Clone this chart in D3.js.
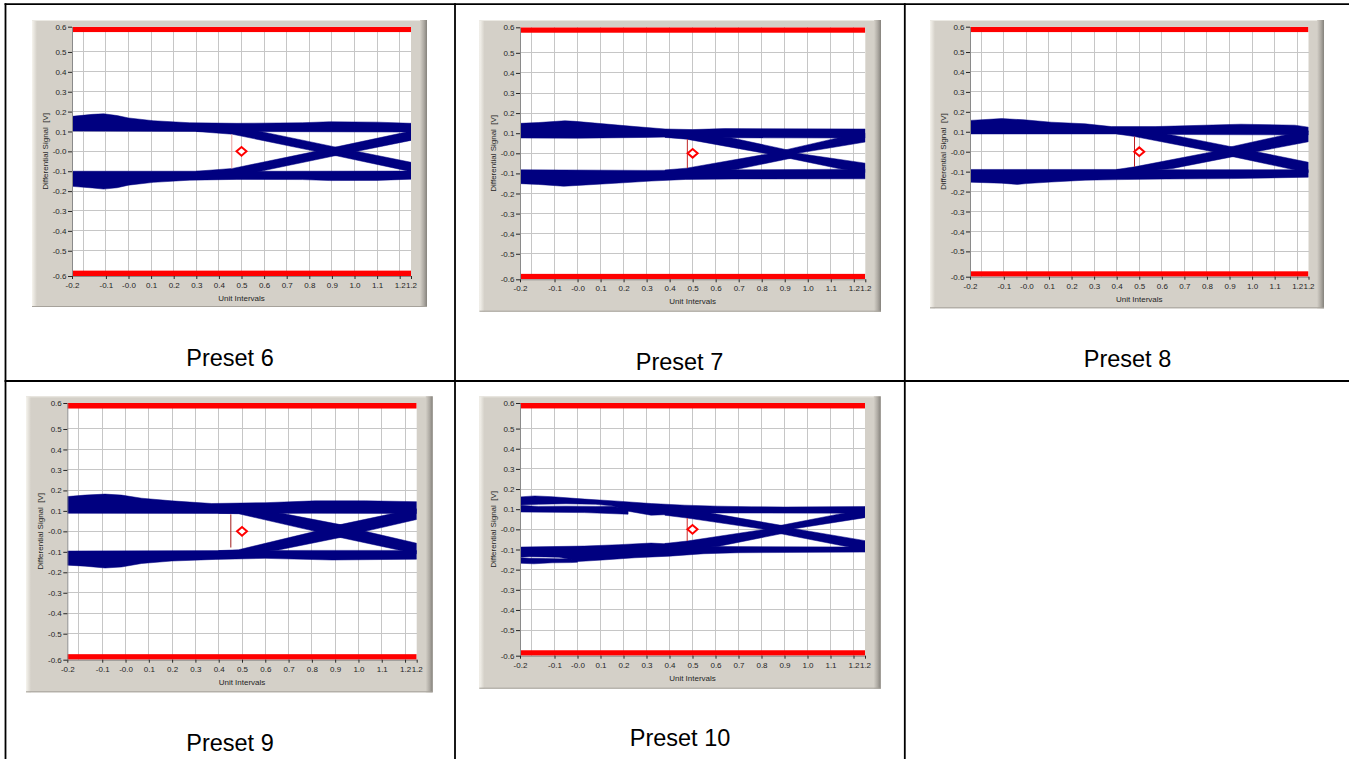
<!DOCTYPE html>
<html>
<head>
<meta charset="utf-8">
<script src="https://cdn.jsdelivr.net/npm/d3@7"></script>
<style>
  body { margin: 0; background: #ffffff; }
  svg { display: block; font-family: "Liberation Sans", Arial, sans-serif; }
</style>
</head>
<body>
<svg id="chart" width="1349" height="759"></svg>
<script>
// ---------- axes ----------
const xDomain = [-0.25, 1.25];          // unit intervals
const yDomain = [-0.627, 0.627];        // volts
const xGridValues = [-0.2, -0.1, 0, 0.1, 0.2, 0.3, 0.4, 0.5, 0.6, 0.7, 0.8, 0.9, 1.0, 1.1, 1.2];
const xTickValues = [-0.1, 0, 0.1, 0.2, 0.3, 0.4, 0.5, 0.6, 0.7, 0.8, 0.9, 1.0, 1.1, 1.2];
const xTickLabels = ["-0.1", "-0.0", "0.1", "0.2", "0.3", "0.4", "0.5", "0.6", "0.7", "0.8", "0.9", "1.0", "1.1", "1.2"];
const xEndLabels = ["-0.2", "1.2"];
const yTickValues = [0.5, 0.4, 0.3, 0.2, 0.1, 0, -0.1, -0.2, -0.3, -0.4, -0.5];
const yTickLabels = ["0.5", "0.4", "0.3", "0.2", "0.1", "-0.0", "-0.1", "-0.2", "-0.3", "-0.4", "-0.5"];
const yEndLabels = ["0.6", "-0.6"];
const maskLevels = [0.6, -0.6];          // mask limits drawn as red bars to the plot edge
const xTitle = "Unit Intervals";
const yTitle = "Differential Signal  [V]";

const presetNames = ["Preset 6", "Preset 7", "Preset 8", "Preset 9", "Preset 10"];

// ---------- eye envelopes: each band = [upper edge, lower edge], points are [UI, V] ----------
// Preset 6
const p6Upper = [
  [[-0.25, 0.176], [-0.16, 0.186], [-0.11, 0.189], [-0.05, 0.180], [0.0, 0.168], [0.11, 0.154], [0.27, 0.144], [0.48, 0.141], [0.77, 0.144], [0.89, 0.149], [1.10, 0.147], [1.25, 0.141]],
  [[-0.25, 0.102], [0.30, 0.100], [0.70, 0.099], [1.25, 0.097]]
];
const p6Lower = [
  [[-0.25, -0.100], [0.30, -0.100], [0.70, -0.100], [1.25, -0.099]],
  [[-0.25, -0.176], [-0.16, -0.184], [-0.11, -0.190], [-0.05, -0.183], [0.0, -0.170], [0.11, -0.156], [0.27, -0.145], [0.48, -0.141], [0.77, -0.142], [0.89, -0.147], [1.10, -0.146], [1.25, -0.140]]
];
const p6Fall = [
  [[0.30, 0.120], [0.568, 0.104], [0.908, 0.0235], [1.25, -0.055]],
  [[0.30, 0.100], [0.46, 0.086], [0.827, 0.0], [1.25, -0.102]]
];
const p6Rise = [
  [[0.30, -0.100], [0.46, -0.086], [0.827, 0.0], [1.25, 0.102]],
  [[0.30, -0.120], [0.568, -0.104], [0.908, -0.0235], [1.25, 0.055]]
];

// Preset 7
const p7Upper = [
  [[-0.25, 0.149], [-0.17, 0.153], [-0.055, 0.162], [-0.01, 0.159], [0.10, 0.148], [0.25, 0.133], [0.38, 0.121], [0.50, 0.118], [0.64, 0.123], [1.25, 0.121]],
  [[-0.25, 0.076], [0.0, 0.075], [0.30, 0.079], [0.44, 0.082], [0.66, 0.077], [1.25, 0.076]]
];
const p7Lower = [
  [[-0.25, -0.082], [0.30, -0.085], [0.45, -0.084], [0.68, -0.082], [1.25, -0.079]],
  [[-0.25, -0.151], [-0.17, -0.155], [-0.06, -0.164], [0.0, -0.160], [0.18, -0.148], [0.32, -0.138], [0.47, -0.130], [0.68, -0.128], [1.25, -0.127]]
];
const p7Fall = [
  [[0.38, 0.100], [0.661, 0.079], [0.907, 0.018], [0.955, 0.0], [1.25, -0.049]],
  [[0.38, 0.079], [0.473, 0.0705], [0.827, -0.003], [1.139, -0.077], [1.25, -0.095]]
];
const p7Rise = [
  [[0.38, -0.083], [0.473, -0.074], [0.827, -0.003], [1.139, 0.079], [1.25, 0.100]],
  [[0.38, -0.100], [0.683, -0.082], [0.922, -0.026], [0.955, 0.0], [1.25, 0.056]]
];

// Preset 8
const p8Upper = [
  [[-0.25, 0.157], [-0.11, 0.166], [-0.01, 0.160], [0.11, 0.148], [0.26, 0.140], [0.376, 0.126], [0.57, 0.126], [0.70, 0.130], [0.95, 0.138], [1.19, 0.133], [1.25, 0.123]],
  [[-0.25, 0.089], [0.40, 0.089], [0.70, 0.086], [1.25, 0.084]]
];
const p8Lower = [
  [[-0.25, -0.089], [0.40, -0.089], [0.70, -0.090], [1.25, -0.090]],
  [[-0.25, -0.153], [-0.11, -0.158], [-0.04, -0.164], [0.0, -0.160], [0.11, -0.152], [0.26, -0.143], [0.41, -0.140], [0.62, -0.137], [0.91, -0.135], [1.25, -0.128]]
];
const p8Fall = [
  [[0.40, 0.110], [0.605, 0.093], [0.908, 0.025], [1.019, 0.0], [1.25, -0.053]],
  [[0.40, 0.089], [0.479, 0.076], [0.827, 0.0], [0.915, -0.025], [1.196, -0.093], [1.25, -0.105]]
];
const p8Rise = [
  [[0.40, -0.089], [0.479, -0.076], [0.827, 0.0], [0.908, 0.025], [1.18, 0.093], [1.25, 0.105]],
  [[0.40, -0.110], [0.649, -0.084], [0.915, -0.025], [1.019, 0.0], [1.25, 0.050]]
];

// Preset 9
const p9Upper = [
  [[-0.25, 0.170], [-0.174, 0.177], [-0.088, 0.182], [-0.017, 0.177], [0.069, 0.162], [0.198, 0.149], [0.37, 0.136], [0.60, 0.140], [0.814, 0.149], [1.03, 0.149], [1.25, 0.145]],
  [[-0.25, 0.088], [0.485, 0.087], [0.80, 0.088], [1.25, 0.087]]
];
const p9Lower = [
  [[-0.25, -0.096], [0.485, -0.094], [0.80, -0.093], [1.25, -0.093]],
  [[-0.25, -0.165], [-0.174, -0.170], [-0.088, -0.179], [-0.017, -0.174], [0.069, -0.157], [0.198, -0.145], [0.385, -0.137], [0.60, -0.132], [0.886, -0.140], [1.25, -0.136]]
];
const p9Fall = [
  [[0.40, 0.110], [0.671, 0.088], [0.922, 0.033], [1.029, 0.0], [1.25, -0.058]],
  [[0.40, 0.088], [0.485, 0.086], [0.814, 0.0], [0.922, -0.030], [1.172, -0.091], [1.25, -0.110]]
];
const p9Rise = [
  [[0.40, -0.094], [0.485, -0.090], [0.814, 0.0], [0.922, 0.033], [1.151, 0.088], [1.25, 0.110]],
  [[0.40, -0.120], [0.657, -0.091], [0.922, -0.030], [1.029, 0.0], [1.25, 0.058]]
];

// Preset 10 (rails split into two trace groups on the left)
const p10UpperOuter = [
  [[-0.25, 0.161], [-0.186, 0.166], [-0.11, 0.162], [0.032, 0.150], [0.176, 0.140], [0.321, 0.128], [0.466, 0.120], [0.61, 0.115], [0.755, 0.112], [0.90, 0.111], [1.25, 0.113]],
  [[-0.25, 0.121], [-0.17, 0.124], [-0.05, 0.127], [0.08, 0.124], [0.15, 0.117], [0.22, 0.090], [0.32, 0.070], [0.567, 0.081], [1.25, 0.080]]
];
const p10UpperInner = [
  [[-0.25, 0.119], [-0.17, 0.114], [-0.05, 0.115], [0.08, 0.114], [0.15, 0.115], [0.22, 0.100]],
  [[-0.25, 0.086], [0.03, 0.083], [0.22, 0.075]]
];
const p10LowerInner = [
  [[-0.25, -0.088], [0.03, -0.083], [0.18, -0.076], [0.32, -0.068], [0.61, -0.085], [1.25, -0.088]],
  [[-0.25, -0.139], [-0.21, -0.136], [-0.14, -0.137], [-0.08, -0.139], [-0.03, -0.150], [0.0, -0.160], [0.11, -0.152], [0.25, -0.141], [0.40, -0.133], [0.55, -0.121], [0.70, -0.116], [1.25, -0.113]]
];
const p10LowerOuter = [
  [[-0.25, -0.141], [-0.21, -0.144], [-0.14, -0.145], [-0.08, -0.146], [-0.03, -0.147], [0.0, -0.152]],
  [[-0.25, -0.168], [-0.19, -0.171], [-0.11, -0.166], [-0.03, -0.165], [0.0, -0.163]]
];
const p10Fall = [
  [[0.38, 0.100], [0.567, 0.083], [0.885, 0.020], [0.943, 0.003], [1.25, -0.056]],
  [[0.38, 0.070], [0.477, 0.056], [0.813, 0.0], [0.885, -0.022], [1.168, -0.085], [1.25, -0.100]]
];
const p10Rise = [
  [[0.38, -0.070], [0.477, -0.058], [0.813, 0.0], [0.885, 0.020], [1.146, 0.078], [1.25, 0.100]],
  [[0.38, -0.100], [0.61, -0.085], [0.885, -0.022], [0.943, 0.003], [1.25, 0.058]]
];

const presetBands = [
  [p6Upper, p6Lower, p6Fall, p6Rise],
  [p7Upper, p7Lower, p7Fall, p7Rise],
  [p8Upper, p8Lower, p8Fall, p8Rise],
  [p9Upper, p9Lower, p9Fall, p9Rise],
  [p10UpperOuter, p10UpperInner, p10LowerInner, p10LowerOuter, p10Fall, p10Rise]
];

// eye-opening cursor: x position and vertical extent, plus the eye-centre marker
const eyeCursorX = [0.457, 0.477, 0.479, 0.452, 0.477];
const eyeCursorTop = [0.086, 0.0705, 0.076, 0.083, 0.056];
const eyeCursorBottom = [-0.086, -0.074, -0.076, -0.079, -0.058];
const eyeCentreX = [0.5, 0.5, 0.5, 0.5, 0.5];
const eyeCentreY = [0, 0, 0, 0, 0];

// ---------- page layout (pixels) ----------
const layout = [
  { frame: [32, 20, 427, 307],       plot: [72, 26.7, 411, 276],       caption: [230, 365.5] },
  { frame: [479.5, 20, 881, 311.7],  plot: [520, 27.3, 865.3, 279.3],  caption: [679.5, 370] },
  { frame: [930, 20, 1324, 308.3],   plot: [970, 26.7, 1308.5, 276.7], caption: [1127.5, 366.5] },
  { frame: [26, 396.3, 432.7, 692.3],plot: [67.3, 403, 416.7, 659.7],  caption: [230, 750.5] },
  { frame: [479.3, 396.3, 880.7, 688.7], plot: [520, 403, 865, 655.7], caption: [680, 746.3] }
];
const cursorColors = ["#e8a0a0", "#c0282a", "#b82024", "#a01c1c", "#c8282a"];

const NAVY = "#000080";
const FRAME = "#d4d0c8";
const GRID = "#c6c6c6";
const INK = "#262626";
const FONT = "'Liberation Sans', Arial, sans-serif";

const svg = d3.select("#chart");
const defs = svg.append("defs");

const gl = defs.append("linearGradient").attr("id", "bevelL").attr("x1", 0).attr("x2", 1).attr("y1", 0).attr("y2", 0);
gl.append("stop").attr("offset", 0).attr("stop-color", "#f6f4ee");
gl.append("stop").attr("offset", 1).attr("stop-color", FRAME);
const gr = defs.append("linearGradient").attr("id", "bevelR").attr("x1", 0).attr("x2", 1).attr("y1", 0).attr("y2", 0);
gr.append("stop").attr("offset", 0).attr("stop-color", FRAME);
gr.append("stop").attr("offset", 0.55).attr("stop-color", "#aeaaa3");
gr.append("stop").attr("offset", 1).attr("stop-color", "#85827c");

// ---------- table grid ----------
const table = svg.append("g").attr("stroke", "#000").attr("stroke-width", 1.8);
table.append("line").attr("x1", 4.6).attr("x2", 1349).attr("y1", 4.2).attr("y2", 4.2);
table.append("line").attr("x1", 4.6).attr("x2", 1349).attr("y1", 381).attr("y2", 381);
table.append("line").attr("x1", 5.5).attr("x2", 5.5).attr("y1", 3.3).attr("y2", 759);
table.append("line").attr("x1", 455).attr("x2", 455).attr("y1", 3.3).attr("y2", 759);
table.append("line").attr("x1", 904.8).attr("x2", 904.8).attr("y1", 3.3).attr("y2", 759);

// ---------- panels ----------
presetNames.forEach((name, i) => {
  const L = layout[i];
  const [fx0, fy0, fx1, fy1] = L.frame;
  const [pl, pt, pr, pb] = L.plot;
  const g = svg.append("g");

  // bevelled graph frame
  g.append("rect").attr("x", fx0).attr("y", fy0).attr("width", fx1 - fx0).attr("height", fy1 - fy0).attr("fill", FRAME);
  g.append("rect").attr("x", fx0).attr("y", fy0).attr("width", 5).attr("height", fy1 - fy0).attr("fill", "url(#bevelL)");
  g.append("rect").attr("x", fx1 - 7).attr("y", fy0).attr("width", 7).attr("height", fy1 - fy0).attr("fill", "url(#bevelR)");
  g.append("line").attr("x1", fx0).attr("x2", fx1 - 7).attr("y1", fy0 + 0.5).attr("y2", fy0 + 0.5).attr("stroke", "#ebe9e3");
  g.append("line").attr("x1", fx0).attr("x2", fx1).attr("y1", fy1 - 0.5).attr("y2", fy1 - 0.5).attr("stroke", "#a6a29b");

  const x = d3.scaleLinear().domain(xDomain).range([pl, pr]);
  const y = d3.scaleLinear().domain(yDomain).range([pb, pt]);

  const clipId = "clip" + i;
  defs.append("clipPath").attr("id", clipId).append("rect")
    .attr("x", pl).attr("y", pt).attr("width", pr - pl).attr("height", pb - pt);

  g.append("rect").attr("x", pl).attr("y", pt).attr("width", pr - pl).attr("height", pb - pt).attr("fill", "#fff");

  // grid
  const grid = g.append("g").attr("stroke", GRID).attr("stroke-width", 1).attr("shape-rendering", "crispEdges");
  grid.selectAll("line.v").data(xGridValues).join("line").attr("class", "v")
    .attr("x1", d => x(d)).attr("x2", d => x(d)).attr("y1", pt).attr("y2", pb);
  grid.selectAll("line.h").data(yTickValues).join("line").attr("class", "h")
    .attr("y1", d => y(d)).attr("y2", d => y(d)).attr("x1", pl).attr("x2", pr);

  // eye diagram envelopes
  const edge = d3.line().x(d => x(d[0])).y(d => y(d[1]));
  const plot = g.append("g").attr("clip-path", `url(#${clipId})`);
  plot.selectAll("path.band").data(presetBands[i]).join("path").attr("class", "band")
    .attr("d", b => edge(b[0].concat(b[1].slice().reverse())) + "Z")
    .attr("fill", NAVY).attr("stroke", NAVY).attr("stroke-width", 0.5).attr("stroke-linejoin", "round");

  // mask limits
  plot.append("rect").attr("x", pl).attr("width", pr - pl)
    .attr("y", y(yDomain[1])).attr("height", y(maskLevels[0]) - y(yDomain[1])).attr("fill", "#ff0000");
  plot.append("rect").attr("x", pl).attr("width", pr - pl)
    .attr("y", y(maskLevels[1])).attr("height", y(yDomain[0]) - y(maskLevels[1])).attr("fill", "#ff0000");

  // eye-opening cursor and centre marker
  plot.append("line")
    .attr("x1", x(eyeCursorX[i])).attr("x2", x(eyeCursorX[i]))
    .attr("y1", y(eyeCursorTop[i])).attr("y2", y(eyeCursorBottom[i]))
    .attr("stroke", cursorColors[i]).attr("stroke-width", 1);
  const cx = x(eyeCentreX[i]), cy = y(eyeCentreY[i]);
  plot.append("path")
    .attr("d", `M${cx - 5},${cy}L${cx},${cy - 4.3}L${cx + 5},${cy}L${cx},${cy + 4.3}Z`)
    .attr("fill", "#fff").attr("stroke", "#ff0000").attr("stroke-width", 2);

  // axes
  const styleAxis = sel => sel.attr("font-size", 8).attr("font-family", FONT).attr("color", INK);
  const yAxis = g.append("g").attr("transform", `translate(${pl},0)`)
    .call(d3.axisLeft(y).tickValues(yTickValues).tickFormat((d, k) => yTickLabels[k]).tickSize(4).tickSizeOuter(0).tickPadding(1.5))
    .call(styleAxis);
  yAxis.select(".domain").attr("stroke", "#8a8a8a");
  g.append("g").attr("transform", `translate(${pl},0)`)
    .call(d3.axisLeft(y).tickValues([yDomain[1], yDomain[0]]).tickFormat((d, k) => yEndLabels[k]).tickSize(4).tickSizeOuter(0).tickPadding(1.5))
    .call(styleAxis).select(".domain").remove();

  g.append("g").attr("transform", `translate(0,${pb})`)
    .call(d3.axisBottom(x).tickValues(xTickValues).tickFormat((d, k) => xTickLabels[k]).tickSize(3).tickSizeOuter(0).tickPadding(3.5))
    .call(styleAxis).select(".domain").attr("stroke", "#8a8a8a");
  g.append("g").attr("transform", `translate(0,${pb})`)
    .call(d3.axisBottom(x).tickValues(xDomain).tickFormat((d, k) => xEndLabels[k]).tickSize(3).tickSizeOuter(0).tickPadding(3.5))
    .call(styleAxis).select(".domain").remove();

  g.append("text").attr("x", (pl + pr) / 2).attr("y", pb + 25)
    .attr("text-anchor", "middle").attr("font-size", 8).attr("fill", INK).text(xTitle);
  g.append("text").attr("transform", `translate(${pl - 24},${(pt + pb) / 2}) rotate(-90)`)
    .attr("text-anchor", "middle").attr("font-size", 8).attr("fill", INK)
    .style("white-space", "pre").text(yTitle);

  // caption
  svg.append("text").attr("x", L.caption[0]).attr("y", L.caption[1])
    .attr("text-anchor", "middle").attr("font-size", 23.5).attr("fill", "#000").text(name);
});
</script>
</body>
</html>
